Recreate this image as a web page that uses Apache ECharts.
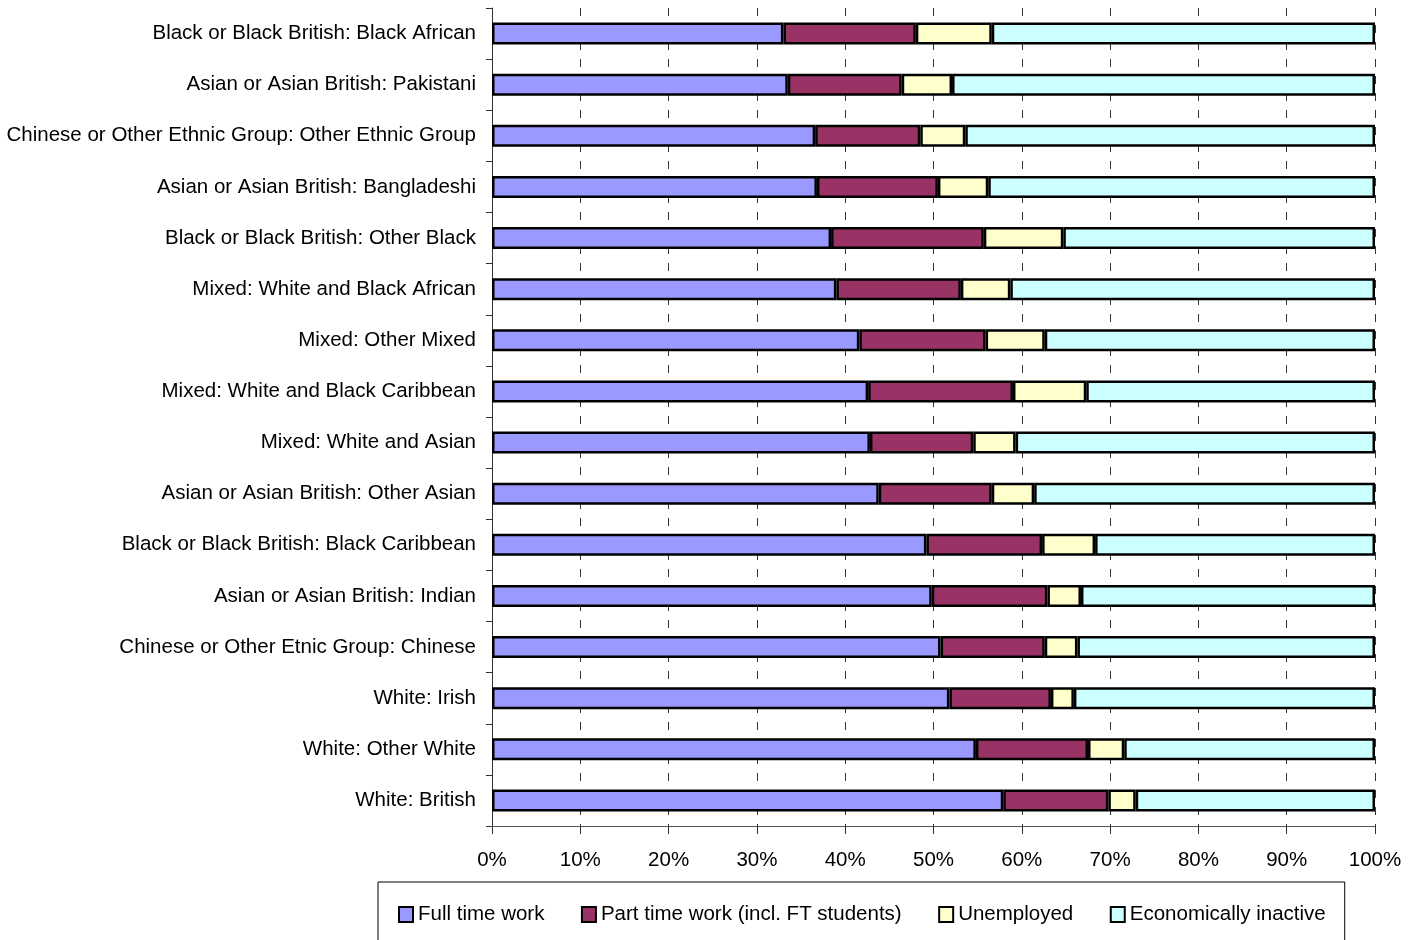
<!DOCTYPE html>
<html>
<head>
<meta charset="utf-8">
<script src="https://cdn.jsdelivr.net/npm/echarts@6/dist/echarts.min.js"></script>
<style>
  html, body { margin: 0; padding: 0; background: #fff; }
  #chart { width: 1418px; height: 940px; }
</style>
</head>
<body>
<div id="chart"></div>
<script>
  // categories, top to bottom
  const groups = [
    'Black or Black British: Black African',
    'Asian or Asian British: Pakistani',
    'Chinese or Other Ethnic Group: Other Ethnic Group',
    'Asian or Asian British: Bangladeshi',
    'Black or Black British: Other Black',
    'Mixed: White and Black African',
    'Mixed: Other Mixed',
    'Mixed: White and Black Caribbean',
    'Mixed: White and Asian',
    'Asian or Asian British: Other Asian',
    'Black or Black British: Black Caribbean',
    'Asian or Asian British: Indian',
    'Chinese or Other Etnic Group: Chinese',
    'White: Irish',
    'White: Other White',
    'White: British'
  ]
  const fullTime   = [33.0, 33.5, 36.6, 36.8, 38.4, 39.0, 41.6, 42.6, 42.8, 43.8, 49.2, 49.8, 50.8, 51.8, 54.8, 57.9]
  const partTime   = [15.0, 12.9, 11.9, 13.7, 17.3, 14.1, 14.3, 16.4, 11.7, 12.8, 13.1, 13.1, 11.8, 11.5, 12.7, 11.9]
  const unemployed = [ 8.6,  5.7,  5.1,  5.7,  9.0,  5.6,  6.7,  8.3,  4.8,  4.8,  6.0,  3.8,  3.7,  2.6,  4.1,  3.1]
  const inactive   = [43.4, 47.9, 46.4, 43.8, 35.3, 41.3, 37.4, 32.7, 40.7, 38.6, 31.7, 33.3, 33.7, 34.1, 28.4, 27.1]

  const font = '"Liberation Sans", Arial, sans-serif'
  const fs = 20.5

  function bar(name, data, color) {
    return {
      name: name,
      type: 'bar',
      stack: 'total',
      barWidth: 22,
      data: data,
      itemStyle: { color: color, borderColor: '#000', borderWidth: 2.5 },
      emphasis: { disabled: true }
    }
  }

  const chart = echarts.init(document.getElementById('chart'))
  chart.setOption({
    animation: false,
    textStyle: { fontFamily: font },
    grid: { left: 492, right: 43, top: 8, bottom: 114, containLabel: false },
    legend: {
      left: 378,
      top: 882,
      padding: [22, 19, 40, 20],
      borderColor: '#000',
      borderWidth: 1,
      itemWidth: 14,
      itemHeight: 15,
      itemGap: 36.5,
      icon: 'rect',
      textStyle: { fontFamily: font, fontSize: fs, color: '#000' },
      itemStyle: { borderColor: '#000', borderWidth: 2 }
    },
    xAxis: {
      type: 'value',
      min: 0,
      max: 100,
      interval: 10,
      axisLine: { show: true, lineStyle: { color: '#555', width: 1 } },
      axisTick: { show: true, length: 8, lineStyle: { color: '#333' } },
      axisLabel: { formatter: '{value}%', fontSize: fs, color: '#000', margin: 24, fontFamily: font },
      splitLine: { show: true, lineStyle: { color: '#333', width: 1, type: [8, 9] } }
    },
    yAxis: {
      type: 'category',
      inverse: true,
      data: groups,
      axisLine: { show: true, lineStyle: { color: '#333', width: 1 } },
      axisTick: { show: true, length: 6, lineStyle: { color: '#333' } },
      axisLabel: { fontSize: fs, color: '#000', margin: 16, fontFamily: font }
    },
    series: [
      bar('Full time work', fullTime, '#9999FF'),
      bar('Part time work (incl. FT students)', partTime, '#993366'),
      bar('Unemployed', unemployed, '#FFFFCC'),
      bar('Economically inactive', inactive, '#CCFFFF')
    ]
  })
</script>
</body>
</html>
